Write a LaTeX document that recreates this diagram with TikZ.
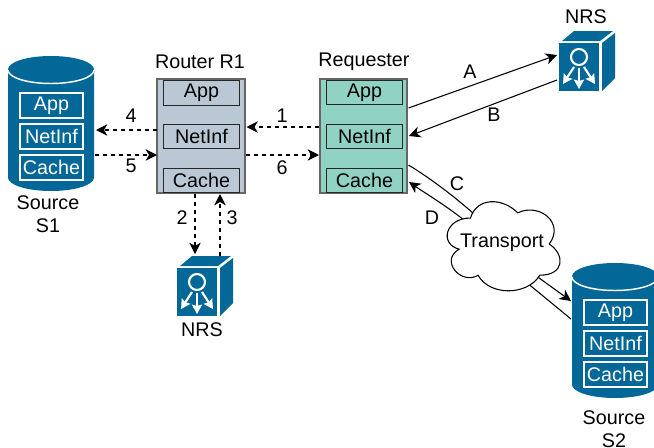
\documentclass[tikz,border=0pt]{standalone}
\usepackage{fontspec}
\setmainfont{Liberation Sans}
\usetikzlibrary{arrows.meta}

\definecolor{nrsblue}{HTML}{036897}
\definecolor{routerfill}{HTML}{B9C8D4}
\definecolor{reqfill}{HTML}{90D3C5}

\begin{document}
\begin{tikzpicture}[
    x=0.75pt, y=-0.75pt,
    % Define styles for the different types of nodes
    txt/.style={font=\fontsize{14.8}{17.25}\selectfont, inner sep=0pt, align=center},
    hostbox/.style={rectangle, draw=black!60, line width=1.5pt, minimum width=65.5pt, minimum height=85pt, inner sep=0pt},
    layer/.style={txt, rectangle, draw=black!85, line width=0.75pt, minimum width=56.5pt, minimum height=18.5pt},
    srclayer/.style={txt, rectangle, draw=white, text=white, line width=0.8pt, minimum width=47.25pt, minimum height=18.75pt},
    nrsface/.style={rectangle, fill=nrsblue, minimum width=30pt, minimum height=36pt, inner sep=0pt},
    solid_arrow/.style={-{Stealth[length=8.5pt,width=8.5pt,inset=2.5pt]}, line width=0.8pt},
    dash_arrow/.style={solid_arrow, dash pattern=on 3pt off 3pt},
    link/.style={line width=0.8pt}
]
    \useasboundingbox (0,0) rectangle (654,447);
    \clip (0,0) rectangle (654,447);

    % Sources (cylinder with three layers)
    \foreach \src/\dx/\dy/\lab/\lx/\ly in {s1/0/0/S1/48/214.5, s2/564/207/S2/50/222.5} {
        \begin{scope}[shift={(\dx,\dy)}]
            \fill[nrsblue] (8,69.5) -- (8,177.5) .. controls (8,185) and (27,191) .. (51,191)
                .. controls (75,191) and (94,185) .. (94,177.5) -- (94,69.5)
                .. controls (94,62) and (75,56) .. (51,56) .. controls (27,56) and (8,62) .. (8,69.5) -- cycle;
            \draw[white, line width=1.1pt] (8,70) .. controls (8,77.5) and (27,83.5) .. (51,83.5)
                .. controls (75,83.5) and (94,77.5) .. (94,70);
            \node[srclayer] (\src-app) at (51.5,105.5) {App};
            \node[srclayer] (\src-net) at (51.5,136.5) {NetInf};
            \node[srclayer] (\src-cache) at (51.5,167.5) {Cache};
            \node[txt] (\src-lab) at (\lx,\ly) {Source\\\lab};
        \end{scope}
    }
    \coordinate (s1-out) at (96,130);
    \coordinate (s1-in) at (95,155);
    \coordinate (s2-in) at (571,301);
    \coordinate (s2-out) at (571,319);

    % Router and requester
    \node[hostbox, fill=routerfill] (r1) at (201,136) {};
    \node[hostbox, fill=reqfill] (req) at (363.5,136) {};
    \node[layer, fill=routerfill] (r1-app) at (201.5,93) {App};
    \node[layer, fill=routerfill] (r1-net) at (201.5,136.5) {NetInf};
    \node[layer, fill=routerfill] (r1-cache) at (201.5,180.5) {Cache};
    \node[layer, fill=reqfill] (req-app) at (364.5,92.5) {App};
    \node[layer, fill=reqfill] (req-net) at (364.5,136.5) {NetInf};
    \node[layer, fill=reqfill] (req-cache) at (364.5,180.5) {Cache};
    \node[txt] (r1-lab) at (200,62) {Router R1};
    \node[txt] (req-lab) at (364,62) {Requester};

    % NRS boxes
    \foreach \nrs/\x/\y in {nrs1/177/268, nrs2/559/43} {
        \begin{scope}[shift={(\x,\y)}]
            \node[nrsface] (\nrs) at (20,24) {};
            \fill[nrsblue] (3,-2) -- (15,-12) -- (54,-12) -- (41,-2) -- cycle;
            \fill[nrsblue] (43,0) -- (56,-10) -- (56,35) -- (43,48) -- cycle;
            \draw[white, line width=1.6pt] (20,14) circle[radius=8];
            \foreach \ax/\ay/\bx/\by in {15/24/4/41, 20/25/20/46, 25/24/36/41}
                \draw[white, line width=1.6pt, -{Stealth[length=7pt,width=7.5pt,inset=1pt]}] (\ax,\ay) -- (\bx,\by);
        \end{scope}
    }
    \node[txt] (nrs1-lab) at (202,330) {NRS};
    \node[txt] (nrs2-lab) at (586,17) {NRS};

    % Free ends of the connectors
    \coordinate (r1-4) at (157,130);
    \coordinate (r1-5) at (157,155);
    \coordinate (r1-1) at (246.5,127);
    \coordinate (r1-6) at (246,155);
    \coordinate (req-1) at (319,127);
    \coordinate (req-6) at (319,155);
    \coordinate (r1-2) at (195,194);
    \coordinate (r1-3) at (220,194);
    \coordinate (nrs1-2) at (195,254);
    \coordinate (nrs1-3) at (220,256);
    \coordinate (req-a) at (408.5,108);
    \coordinate (req-b) at (409,136);
    \coordinate (req-c) at (408.5,165);
    \coordinate (req-d) at (409,182);
    \coordinate (nrs2-a) at (557,55);
    \coordinate (nrs2-b) at (557,80);
    \coordinate (tr-c) at (474,214);
    \coordinate (tr-d) at (464,220);
    \coordinate (tr-e) at (535,275);
    \coordinate (tr-f) at (526,282);

    % Dashed connectors around the router
    \draw[dash_arrow] (r1-4) -- (s1-out);
    \draw[dash_arrow] (s1-in) -- (r1-5);
    \draw[dash_arrow] (req-1) -- (r1-1);
    \draw[dash_arrow] (r1-6) -- (req-6);
    \draw[dash_arrow] (r1-2) -- (nrs1-2);
    \draw[dash_arrow] (nrs1-3) -- (r1-3);

    % Solid connectors around the requester
    \draw[solid_arrow] (req-a) -- (nrs2-a);
    \draw[solid_arrow] (nrs2-b) -- (req-b);
    \draw[link] (req-c) .. controls (430,178) and (455,197) .. (tr-c);
    \draw[solid_arrow] (tr-d) .. controls (445,205) and (425,193) .. (req-d);
    \draw[solid_arrow] (tr-e) -- (s2-in);
    \draw[link] (tr-f) -- (s2-out);

    % Transport cloud
    \begin{scope}[shift={(439,192)}, x=0.945pt, y=-0.78pt]
        \draw[fill=white, line width=0.8pt] (25,25) .. controls (5,25) and (0,50) .. (16,55)
            .. controls (0,66) and (18,90) .. (31,80)
            .. controls (40,100) and (70,100) .. (80,80)
            .. controls (100,80) and (100,60) .. (87.5,50)
            .. controls (100,30) and (80,10) .. (62.5,20)
            .. controls (50,5) and (30,5) .. (25,25) -- cycle;
    \end{scope}
    \node[txt] (transport) at (502,243) {Transport};

    % Connector labels
    \node[txt] (l1) at (282,116) {1};
    \node[txt] (l2) at (182,218) {2};
    \node[txt] (l3) at (232,218) {3};
    \node[txt] (l4) at (131,116) {4};
    \node[txt] (l5) at (131,166) {5};
    \node[txt] (l6) at (282,168) {6};
    \node[txt] (la) at (470,72) {A};
    \node[txt] (lb) at (494,115) {B};
    \node[txt] (lc) at (457,184) {C};
    \node[txt] (ld) at (432,218) {D};
\end{tikzpicture}
\end{document}
